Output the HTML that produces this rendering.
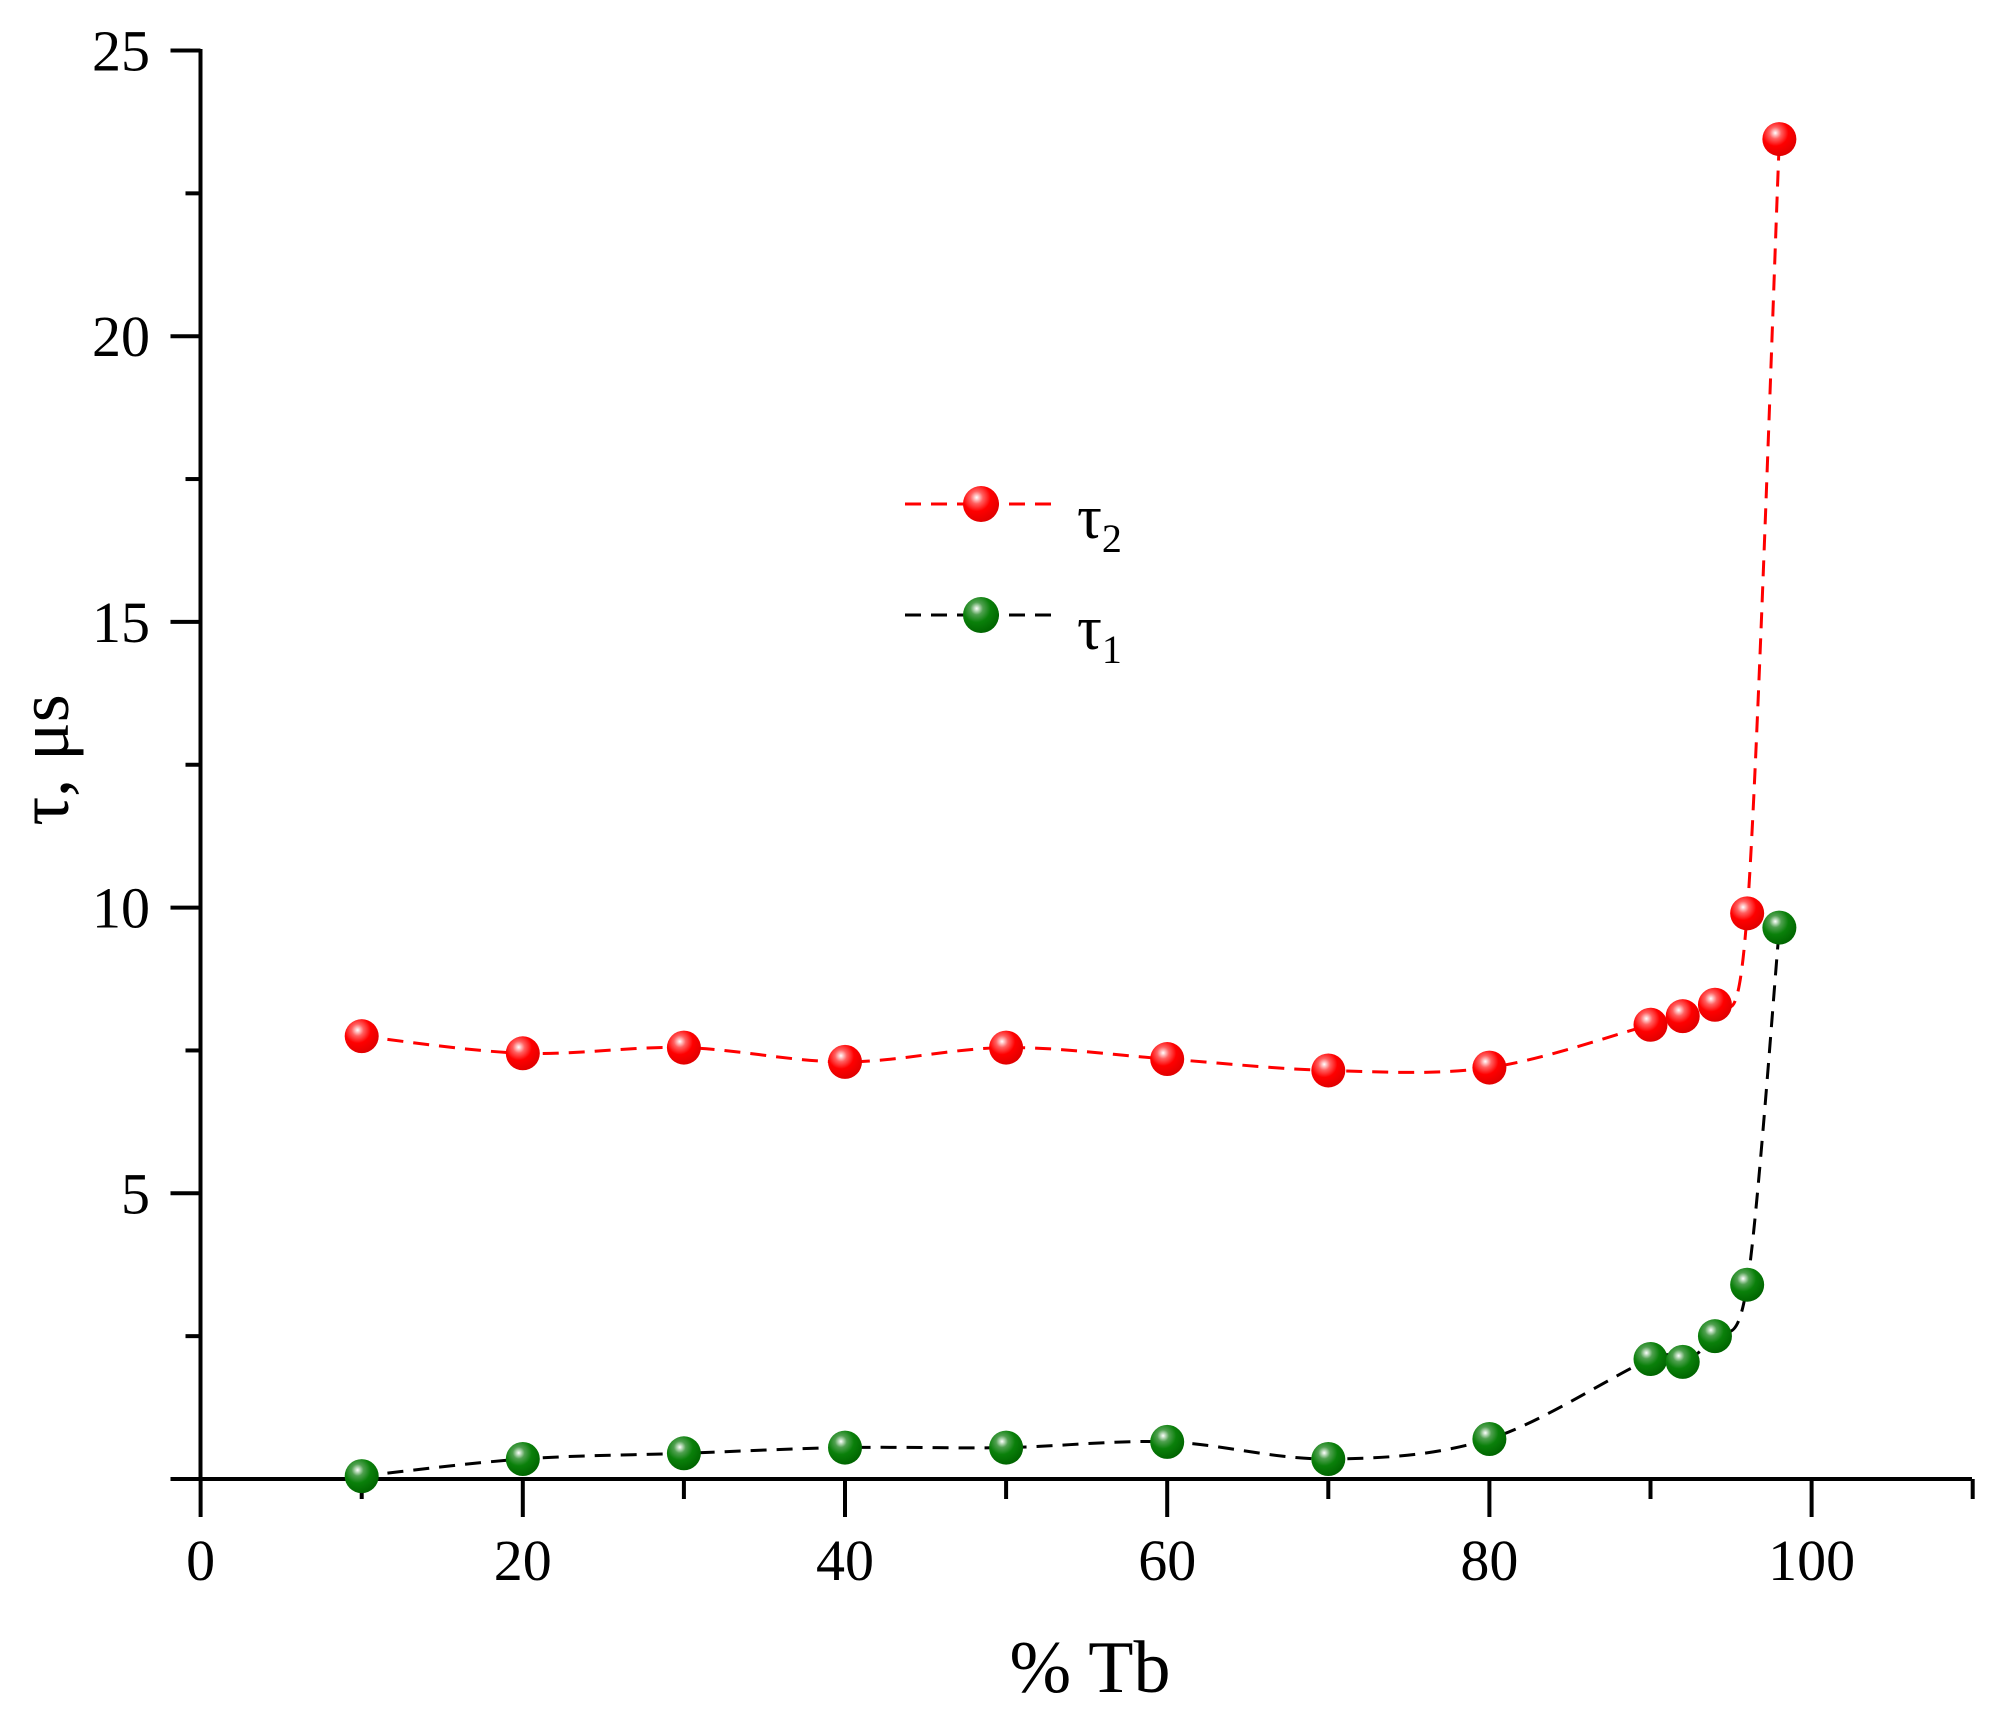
<!DOCTYPE html>
<html><head><meta charset="utf-8"><style>
html,body{margin:0;padding:0;background:#fff;}
svg{display:block;}
text{font-family:"Liberation Serif",serif;fill:#000;}
</style></head><body>
<svg id="s" width="1991" height="1710" viewBox="0 0 1991 1710" xmlns="http://www.w3.org/2000/svg">
<defs>
<radialGradient id="gr" cx="0.38" cy="0.32" r="0.7">
<stop offset="0" stop-color="#fff"/><stop offset="0.25" stop-color="#ff6060"/><stop offset="0.55" stop-color="#ff0000"/><stop offset="1" stop-color="#e00000"/></radialGradient>
<radialGradient id="gg" cx="0.38" cy="0.32" r="0.7">
<stop offset="0" stop-color="#fff"/><stop offset="0.25" stop-color="#50a050"/><stop offset="0.55" stop-color="#0a800a"/><stop offset="1" stop-color="#006400"/></radialGradient>
</defs>
<g id="axes" stroke="#000" stroke-width="4" fill="none">
<line x1="200.5" y1="49" x2="200.5" y2="1481"/>
<line x1="198" y1="1479" x2="1972" y2="1479"/>
</g>
<g id="ticks" stroke="#000" stroke-width="4"></g>
<g id="labels" font-size="58" text-anchor="middle"></g>
<text x="1090" y="1692" font-size="74" text-anchor="middle">% Tb</text>
<text transform="translate(68,760) rotate(-90)" font-size="72" text-anchor="middle">τ, μs</text>
<g id="curves" fill="none" stroke-width="3" stroke-dasharray="16,10"></g>
<g id="marks"></g>
<g id="legend">
<line x1="905" y1="504" x2="1058" y2="504" stroke="#f00" stroke-width="3" stroke-dasharray="16,10"/>
<circle cx="981" cy="504" r="18" fill="url(#gr)"/>
<text x="1077" y="538" font-size="62">τ<tspan font-size="40" dy="14">2</tspan></text>
<line x1="905" y1="615" x2="1058" y2="615" stroke="#000" stroke-width="3" stroke-dasharray="16,10"/>
<circle cx="981" cy="615" r="18" fill="url(#gg)"/>
<text x="1077" y="649" font-size="62">τ<tspan font-size="40" dy="14">1</tspan></text>
</g>
</svg>
<script>
var NS="http://www.w3.org/2000/svg";
function X(v){return 200.6+v*16.11;}
function Y(v){return 1479-v*57.14;}
function el(t,a,p){var e=document.createElementNS(NS,t);for(var k in a)e.setAttribute(k,a[k]);p.appendChild(e);return e;}
var tk=document.getElementById('ticks'),lb=document.getElementById('labels');
for(var v=0;v<=25;v+=2.5){var maj=v%5==0;el('line',{x1:200.5-(maj?30:15),y1:Y(v),x2:200.5,y2:Y(v)},tk);
 if(maj&&v>0){var t=el('text',{x:150,y:Y(v)+20,'text-anchor':'end'},lb);t.textContent=v;}}
for(var v=0;v<=110;v+=10){var maj=v%20==0;el('line',{x1:X(v),y1:1479,x2:X(v),y2:1479+(maj?38:20)},tk);
 if(maj){var t=el('text',{x:X(v),y:1580},lb);t.textContent=v;}}
var xs=[10,20,30,40,50,60,70,80,90,92,94,96,98];
var t2=[7.75,7.45,7.55,7.3,7.55,7.35,7.15,7.2,7.95,8.1,8.3,9.9,23.45];
var t1=[0.05,0.35,0.45,0.55,0.55,0.65,0.35,0.7,2.1,2.05,2.5,3.4,9.65];
function path(ys){var p=xs.map(function(x,i){return[X(x),Y(ys[i])];});var d='M'+p[0][0]+','+p[0][1];
 for(var i=0;i<p.length-1;i++){var p0=p[Math.max(0,i-1)],p1=p[i],p2=p[i+1],p3=p[Math.min(p.length-1,i+2)];
 var c1=[p1[0]+(p2[0]-p0[0])/6,p1[1]+(p2[1]-p0[1])/6],c2=[p2[0]-(p3[0]-p1[0])/6,p2[1]-(p3[1]-p1[1])/6];
 d+=' C'+c1+' '+c2+' '+p2;}return d;}
var cv=document.getElementById('curves'),mk=document.getElementById('marks');
el('path',{d:path(t2),stroke:'#f00'},cv);
el('path',{d:path(t1),stroke:'#000'},cv);
xs.forEach(function(x,i){el('circle',{cx:X(x),cy:Y(t2[i]),r:17,fill:'url(#gr)'},mk);el('circle',{cx:X(x),cy:Y(t1[i]),r:17,fill:'url(#gg)'},mk);});
</script>
</body></html>
